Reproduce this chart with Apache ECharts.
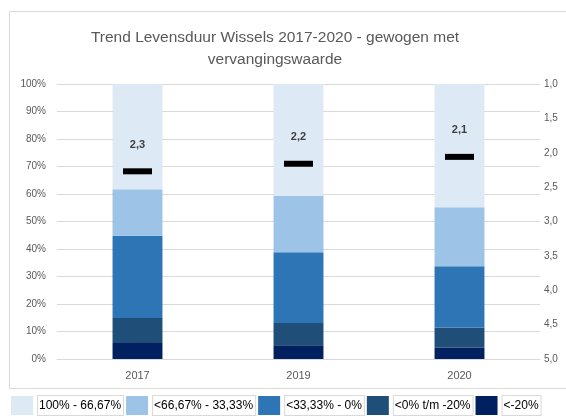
<!DOCTYPE html>
<html>
<head>
<meta charset="utf-8">
<script src="https://cdn.jsdelivr.net/npm/echarts@6/dist/echarts.min.js"></script>
<style>
  html, body { margin: 0; padding: 0; background: #fff; }
  #main { width: 566px; height: 416px; }
</style>
</head>
<body>
<div id="main"></div>
<script>
var years = ['2017', '2019', '2020'];
// shares per class, in percent (bottom to top of each bar)
var lt20 = [5.8, 5.0, 4.1];
var upTo20 = [9.1, 8.1, 7.4];
var upTo33 = [29.9, 25.7, 22.2];
var upTo67 = [16.9, 20.6, 21.5];
var upTo100 = [38.3, 40.6, 44.8];
// weighted lifetime score (right axis, inverted)
var score = [2.27, 2.16, 2.06];
var rightTicks = ['1,0', '1,5', '2,0', '2,5', '3,0', '3,5', '4,0', '4,5', '5,0'];

var names = ['100% - 66,67%', '<66,67% - 33,33%', '<33,33% - 0%', '<0% t/m -20%', '<-20%'];
var colors = ['#dde9f5', '#9dc3e6', '#2e75b6', '#1f4e79', '#002060'];
var labelFont = 'Liberation Sans, Arial, sans-serif';

function bar(name, data, color) {
  return {
    name: name,
    type: 'bar',
    stack: 'share',
    barWidth: '31%',
    itemStyle: { color: color },
    data: data
  };
}

var myChart = echarts.init(document.getElementById('main'));
var option = {
  animation: false,
  backgroundColor: '#fff',
  graphic: [{
    type: 'rect',
    shape: { x: 9.5, y: 11.5, width: 600, height: 377 },
    style: { fill: 'none', stroke: '#d9d9d9', lineWidth: 1 },
    silent: true,
    z: -1
  }],
  title: {
    text: 'Trend Levensduur Wissels 2017-2020 - gewogen met\nvervangingswaarde',
    left: 270,
    textAlign: 'center',
    top: 22,
    textStyle: {
      color: '#595959',
      fontSize: 15.5,
      fontWeight: 'normal',
      fontFamily: labelFont,
      lineHeight: 22
    }
  },
  legend: {
    data: names,
    left: 11,
    bottom: 0,
    width: 620,
    padding: 0,
    itemWidth: 22,
    itemHeight: 19,
    itemGap: 2,
    icon: 'rect',
    selectedMode: false,
    textStyle: {
      color: '#000',
      fontSize: 12,
      fontFamily: labelFont,
      borderColor: '#d9d9d9',
      borderWidth: 1,
      padding: [4, 2, 3, 1],
      backgroundColor: '#fff'
    }
  },
  grid: { left: 57, right: 26, top: 84, bottom: 57 },
  xAxis: {
    type: 'category',
    data: years,
    axisLine: { lineStyle: { color: '#d9d9d9' } },
    axisTick: { show: false },
    axisLabel: { color: '#595959', fontSize: 11, fontFamily: labelFont, margin: 11 }
  },
  yAxis: [{
    type: 'value',
    min: 0,
    max: 100,
    interval: 10,
    axisLine: { show: false },
    axisTick: { show: false },
    splitLine: { lineStyle: { color: '#d9d9d9' } },
    axisLabel: { color: '#595959', fontSize: 10, fontFamily: labelFont, margin: 11, formatter: '{value}%' }
  }, {
    type: 'value',
    inverse: true,
    min: 1,
    max: 5,
    interval: 0.5,
    axisLine: { show: false },
    axisTick: { show: false },
    splitLine: { show: false },
    axisLabel: {
      color: '#595959', fontSize: 10, fontFamily: labelFont, margin: 4,
      formatter: function (v) {
        var i = Math.round((v - 1) / 0.5);
        return rightTicks[i] || '';
      }
    }
  }],
  series: [
    bar(names[4], lt20, colors[4]),
    bar(names[3], upTo20, colors[3]),
    bar(names[2], upTo33, colors[2]),
    bar(names[1], upTo67, colors[1]),
    bar(names[0], upTo100, colors[0]),
    {
      name: 'Score',
      type: 'scatter',
      yAxisIndex: 1,
      symbol: 'rect',
      symbolSize: [29, 6],
      itemStyle: { color: '#000', opacity: 1 },
      label: {
        show: true,
        position: 'top',
        distance: 18,
        color: '#404040',
        fontSize: 11,
        fontWeight: 'bold',
        fontFamily: labelFont,
        formatter: function (p) { return p.value.toFixed(1).replace('.', ','); }
      },
      data: score,
      z: 5
    }
  ]
};
myChart.setOption(option);
</script>
</body>
</html>
